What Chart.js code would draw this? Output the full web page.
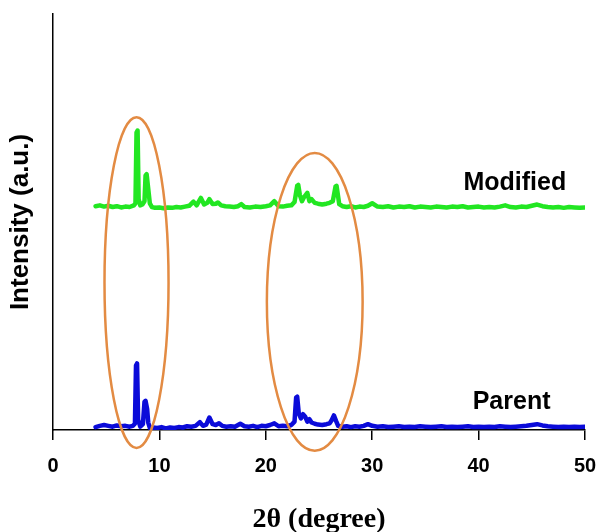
<!DOCTYPE html>
<html>
<head>
<meta charset="utf-8">
<script src="https://cdn.jsdelivr.net/npm/chart.js@4.4.1/dist/chart.umd.min.js"></script>
<style>
  html, body { margin: 0; padding: 0; background: #fff; }
  #wrap { width: 598px; height: 532px; }
</style>
</head>
<body>
<div id="wrap"><canvas id="xrd" width="598" height="532"></canvas></div>
<script>
// 2-theta tick marks
const thetaTicks = [0, 10, 20, 30, 40, 50];

// Parent sample pattern
const parentTheta = [
  4.0, 4.4, 4.8, 5.2, 5.6, 6.0, 6.4, 6.8, 7.2, 7.5,
  7.7, 7.8, 7.9, 8.0, 8.2, 8.45, 8.6, 8.7, 8.85, 8.95, 9.1,
  9.4, 9.8, 10.2, 10.6, 11.0, 11.4, 11.8, 12.2, 12.6, 13.0,
  13.4, 13.8, 14.1, 14.4, 14.7, 15.0, 15.3, 15.6, 15.9, 16.3,
  16.7, 17.1, 17.6, 18.0, 18.4, 18.8, 19.2, 19.6, 20.0, 20.4,
  20.8, 21.2, 21.6, 22.0, 22.4, 22.7, 22.85, 22.95, 23.1, 23.3, 23.5,
  23.7, 23.9, 24.1, 24.3, 24.6, 24.9, 25.3, 25.7, 26.0, 26.2,
  26.4, 26.6, 26.8, 27.2, 27.6, 28.0, 28.4, 28.8, 29.2, 29.6,
  30.0, 30.5, 31.0, 31.5, 32.0, 32.5, 33.0, 33.5, 34.0, 34.5,
  35.0, 35.5, 36.0, 36.5, 37.0, 37.5, 38.0, 38.5, 39.0, 39.5,
  40.0, 40.5, 41.0, 41.5, 42.0, 42.5, 43.0, 43.5, 44.0, 44.5,
  45.0, 45.5, 46.0, 46.5, 47.0, 47.5, 48.0, 48.5, 49.0, 49.5, 50.0
];
const parentIntensity = [
  0.7, 1.0, 1.2, 1.0, 0.8, 1.1, 0.9, 1.0, 0.8, 1.0,
  1.5, 15.5, 16.0, 2.5, 0.8, 1.4, 6.8, 7.0, 5.0, 1.8, 0.5,
  0.6, 0.5, 0.7, 0.4, 0.6, 0.5, 0.7, 0.6, 0.9, 0.8,
  1.0, 1.9, 1.0, 1.3, 3.0, 1.4, 1.2, 1.6, 1.0, 0.8,
  0.9, 0.8, 1.5, 0.9, 0.8, 1.0, 0.7, 1.0, 0.9, 1.2,
  1.6, 0.9, 1.0, 0.9, 1.2, 2.0, 7.8, 8.0, 4.0, 2.8, 3.8,
  3.2, 2.0, 2.6, 1.8, 1.5, 1.3, 1.2, 1.4, 1.6, 2.4,
  3.5, 2.2, 1.0, 0.8, 0.9, 0.7, 0.9, 0.8, 1.0, 1.4,
  1.0, 0.8, 0.9, 0.7, 0.8, 0.9, 0.7, 0.8, 0.7, 0.9,
  0.8, 0.7, 0.8, 0.9, 0.7, 0.8, 0.7, 0.8, 0.9, 0.7,
  0.8, 0.7, 0.8, 0.7, 0.9, 0.8, 0.7, 0.8, 0.9, 1.0,
  1.2, 1.4, 1.1, 0.9, 0.8, 0.7, 0.8, 0.7, 0.8, 0.7, 0.8
];

// Modified sample pattern (stacked above the parent)
const modifiedTheta = [
  4.0, 4.4, 4.8, 5.2, 5.6, 6.0, 6.4, 6.8, 7.2, 7.6,
  7.75, 7.85, 7.95, 8.05, 8.2, 8.4, 8.6, 8.7, 8.8, 8.95, 9.1, 9.3,
  9.6, 10.0, 10.4, 10.8, 11.2, 11.6, 12.0, 12.4, 12.8, 13.2,
  13.5, 13.9, 14.2, 14.5, 14.7, 15.0, 15.3, 15.5, 15.8, 16.2,
  16.6, 17.0, 17.4, 17.7, 18.0, 18.5, 19.0, 19.5, 20.0, 20.4,
  20.8, 21.2, 21.6, 22.0, 22.4, 22.7, 22.95, 23.05, 23.2, 23.4, 23.6,
  23.9, 24.1, 24.3, 24.6, 24.9, 25.3, 25.7, 26.0, 26.3, 26.55, 26.65,
  26.9, 27.2, 27.6, 28.0, 28.4, 28.8, 29.2, 29.6, 30.0, 30.5,
  31.0, 31.5, 32.0, 32.5, 33.0, 33.5, 34.0, 34.5, 35.0, 35.5,
  36.0, 36.5, 37.0, 37.5, 38.0, 38.5, 39.0, 39.5, 40.0, 40.5,
  41.0, 41.5, 42.0, 42.5, 43.0, 43.5, 44.0, 44.5, 45.0, 45.5,
  46.0, 46.5, 47.0, 47.5, 48.0, 48.5, 49.0, 49.5, 50.0
];
const modifiedIntensity = [
  53.8, 54.0, 53.7, 53.9, 53.6, 53.8, 53.5, 53.7, 53.6, 54.0,
  54.5, 71.5, 72.0, 55.5, 54.0, 54.2, 55.0, 61.2, 61.5, 58.0, 54.5, 53.6,
  53.4, 53.5, 53.3, 53.5, 53.4, 53.6, 53.5, 53.7, 53.9, 54.9,
  54.0, 55.8, 54.2, 54.6, 55.5, 54.3, 54.4, 54.7, 54.0, 53.8,
  53.7, 53.6, 53.8, 54.3, 53.6, 53.5, 53.7, 53.6, 53.8, 54.0,
  55.0, 53.8, 53.7, 53.9, 54.0, 54.8, 58.7, 58.9, 56.5, 55.0, 56.0,
  57.0, 55.0, 55.5, 54.6, 54.4, 54.2, 54.4, 54.6, 55.0, 58.5, 58.7,
  54.3, 53.8, 53.6, 53.8, 53.5, 53.7, 53.6, 53.9, 54.5, 53.7,
  53.6, 53.8, 53.5, 53.7, 53.6, 53.8, 53.5, 53.7, 53.6, 53.5,
  53.7, 53.6, 53.5, 53.7, 53.6, 53.8, 53.5, 53.6, 53.7, 53.5,
  53.6, 53.5, 53.7, 54.0, 53.6, 53.5, 53.7, 53.6, 53.9, 54.2,
  53.8, 53.6, 53.5, 53.6, 53.4, 53.6, 53.5, 53.4, 53.5
];

// series names and where their labels sit (2-theta, intensity)
const seriesNames = ['Parent', 'Modified'];
const seriesLabelTheta = [43.1, 43.4];
const seriesLabelIntensity = [6.7, 59.4];

// circled peak regions: 2-theta span and intensity span
const highlightTheta = [[4.84, 10.86], [20.1, 29.1]];
const highlightIntensity = [[-4.3, 75.2], [-5.0, 66.6]];

const toPoints = (xs, ys) => xs.map((x, i) => ({ x: x, y: ys[i] }));

const annotations = {
  id: 'annotations',
  afterDatasetsDraw(chart) {
    const { ctx, scales: { x, y } } = chart;
    ctx.save();

    ctx.strokeStyle = '#e38b43';
    ctx.lineWidth = 2.5;
    highlightTheta.forEach((span, i) => {
      const x0 = x.getPixelForValue(span[0]);
      const x1 = x.getPixelForValue(span[1]);
      const y0 = y.getPixelForValue(highlightIntensity[i][0]);
      const y1 = y.getPixelForValue(highlightIntensity[i][1]);
      ctx.beginPath();
      ctx.ellipse((x0 + x1) / 2, (y0 + y1) / 2, Math.abs(x1 - x0) / 2, Math.abs(y1 - y0) / 2, 0, 0, Math.PI * 2);
      ctx.stroke();
    });

    ctx.fillStyle = '#000';
    ctx.font = 'bold 25px "Liberation Sans", Arial, sans-serif';
    ctx.textAlign = 'center';
    ctx.textBaseline = 'middle';
    seriesNames.forEach((name, i) => {
      ctx.fillText(name, x.getPixelForValue(seriesLabelTheta[i]), y.getPixelForValue(seriesLabelIntensity[i]));
    });
    ctx.restore();
  }
};

const lineStyle = {
  borderWidth: 4.5,
  borderJoinStyle: 'round',
  borderCapStyle: 'round',
  pointRadius: 0,
  tension: 0,
  fill: false
};

new Chart(document.getElementById('xrd'), {
  type: 'line',
  data: {
    datasets: [
      { ...lineStyle, label: seriesNames[0], data: toPoints(parentTheta, parentIntensity), borderColor: '#0b0bd9' },
      { ...lineStyle, label: seriesNames[1], data: toPoints(modifiedTheta, modifiedIntensity), borderColor: '#22e622' }
    ]
  },
  options: {
    responsive: false,
    animation: false,
    layout: { padding: { top: 14, right: 13, left: 0, bottom: 0 } },
    plugins: {
      legend: { display: false },
      tooltip: { enabled: false }
    },
    scales: {
      x: {
        type: 'linear',
        min: 0,
        max: 50,
        afterBuildTicks: (scale) => { scale.ticks = thetaTicks.map(v => ({ value: v })); },
        afterFit: (scale) => {
          scale.height = 102;
          // the end labels may spill over the plot edges
          scale.paddingLeft = 0;
          scale.paddingRight = 0;
        },
        grid: { drawOnChartArea: false, drawTicks: true, tickLength: 10, color: '#000', lineWidth: 1.5 },
        border: { display: true, color: '#000', width: 1.5 },
        ticks: {
          color: '#000',
          padding: 14,
          maxRotation: 0,
          font: { family: '"Liberation Sans", Arial, sans-serif', size: 20, weight: 'bold' }
        },
        title: {
          display: true,
          text: '2θ (degree)',
          color: '#000',
          padding: { top: 0, bottom: -5 },
          font: { family: '"Liberation Serif", "Times New Roman", serif', size: 28, weight: 'bold' }
        }
      },
      y: {
        min: 0,
        max: 100,
        afterFit: (scale) => { scale.width = 53; },
        grid: { display: false },
        border: { display: true, color: '#000', width: 1.5 },
        ticks: { display: false },
        title: {
          display: true,
          text: 'Intensity (a.u.)',
          color: '#000',
          padding: { top: 5, bottom: 0 },
          font: { family: '"Liberation Sans", Arial, sans-serif', size: 26, weight: 'bold' }
        }
      }
    }
  },
  plugins: [annotations]
});
</script>
</body>
</html>
